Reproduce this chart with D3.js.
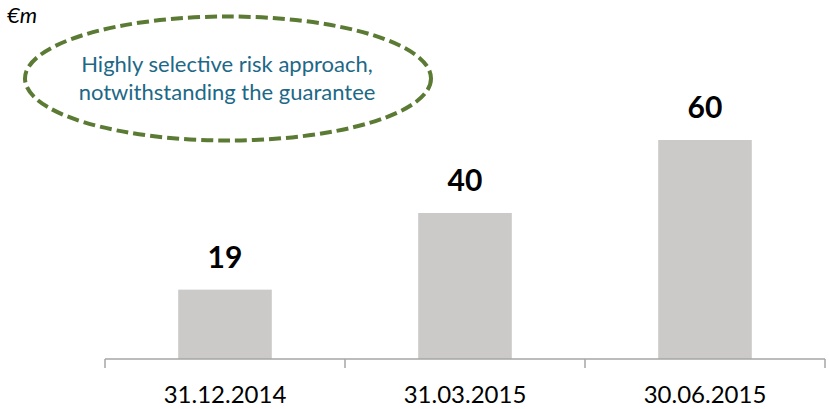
<!DOCTYPE html>
<html>
<head>
<meta charset="utf-8">
<script src="https://cdn.jsdelivr.net/npm/d3@7"></script>
<style>
  html, body { margin: 0; padding: 0; background: #fff; }
  svg { display: block; font-family: Lato, "Open Sans", sans-serif; }
</style>
</head>
<body>
<svg id="chart" width="829" height="409"></svg>
<script>
// Guaranteed loan portfolio, € millions
const categories = ["31.12.2014", "31.03.2015", "30.06.2015"];
const values = [19, 40, 60];
const unitLabel = "€m";
const noteLines = ["Highly selective risk approach,", "notwithstanding the guarantee"];

const svg = d3.select("#chart");
const baseY = 359;

const x = d3.scaleBand()
  .domain(categories)
  .range([105, 825])
  .paddingInner(0.61)
  .paddingOuter(0.305);

const y = d3.scaleLinear()
  .domain([0, 60])
  .range([baseY, 140]);

// Bars
svg.append("g")
  .selectAll("rect")
  .data(values)
  .join("rect")
  .attr("x", (d, i) => x(categories[i]))
  .attr("width", x.bandwidth())
  .attr("y", d => y(d))
  .attr("height", d => y(0) - y(d))
  .attr("fill", "#cccac8");

// Value labels
svg.append("g")
  .selectAll("text")
  .data(values)
  .join("text")
  .attr("x", (d, i) => x(categories[i]) + x.bandwidth() / 2)
  .attr("y", d => y(d) - 22)
  .attr("text-anchor", "middle")
  .attr("font-size", 30)
  .attr("font-weight", "bold")
  .attr("fill", "#000")
  .text(d => d);

// Category axis with ticks at band boundaries
const axisColor = "#a6a6a6";
const bounds = [105, 345, 585, 825];
svg.append("line")
  .attr("x1", 105).attr("x2", 825)
  .attr("y1", baseY).attr("y2", baseY)
  .attr("stroke", axisColor).attr("stroke-width", 1.5);
svg.append("g")
  .selectAll("line")
  .data(bounds)
  .join("line")
  .attr("x1", d => d).attr("x2", d => d)
  .attr("y1", baseY).attr("y2", baseY + 9)
  .attr("stroke", axisColor).attr("stroke-width", 1.5);

svg.append("g")
  .selectAll("text")
  .data(categories)
  .join("text")
  .attr("x", d => x(d) + x.bandwidth() / 2)
  .attr("y", 403)
  .attr("text-anchor", "middle")
  .attr("font-size", 24)
  .attr("fill", "#000")
  .text(d => d);

// Unit label
svg.append("text")
  .attr("x", 7).attr("y", 23)
  .attr("font-size", 22)
  .attr("font-style", "italic")
  .attr("fill", "#000")
  .text(unitLabel);

// Dashed callout ellipse with note
svg.append("ellipse")
  .attr("cx", 228).attr("cy", 78.5)
  .attr("rx", 203).attr("ry", 62)
  .attr("fill", "none")
  .attr("stroke", "#5b7b34")
  .attr("stroke-width", 4)
  .attr("stroke-dasharray", "12,5");

svg.append("g")
  .selectAll("text")
  .data(noteLines)
  .join("text")
  .attr("x", 227)
  .attr("y", (d, i) => 72 + i * 28)
  .attr("text-anchor", "middle")
  .attr("font-size", 22)
  .attr("fill", "#1d6887")
  .text(d => d);
</script>
</body>
</html>
